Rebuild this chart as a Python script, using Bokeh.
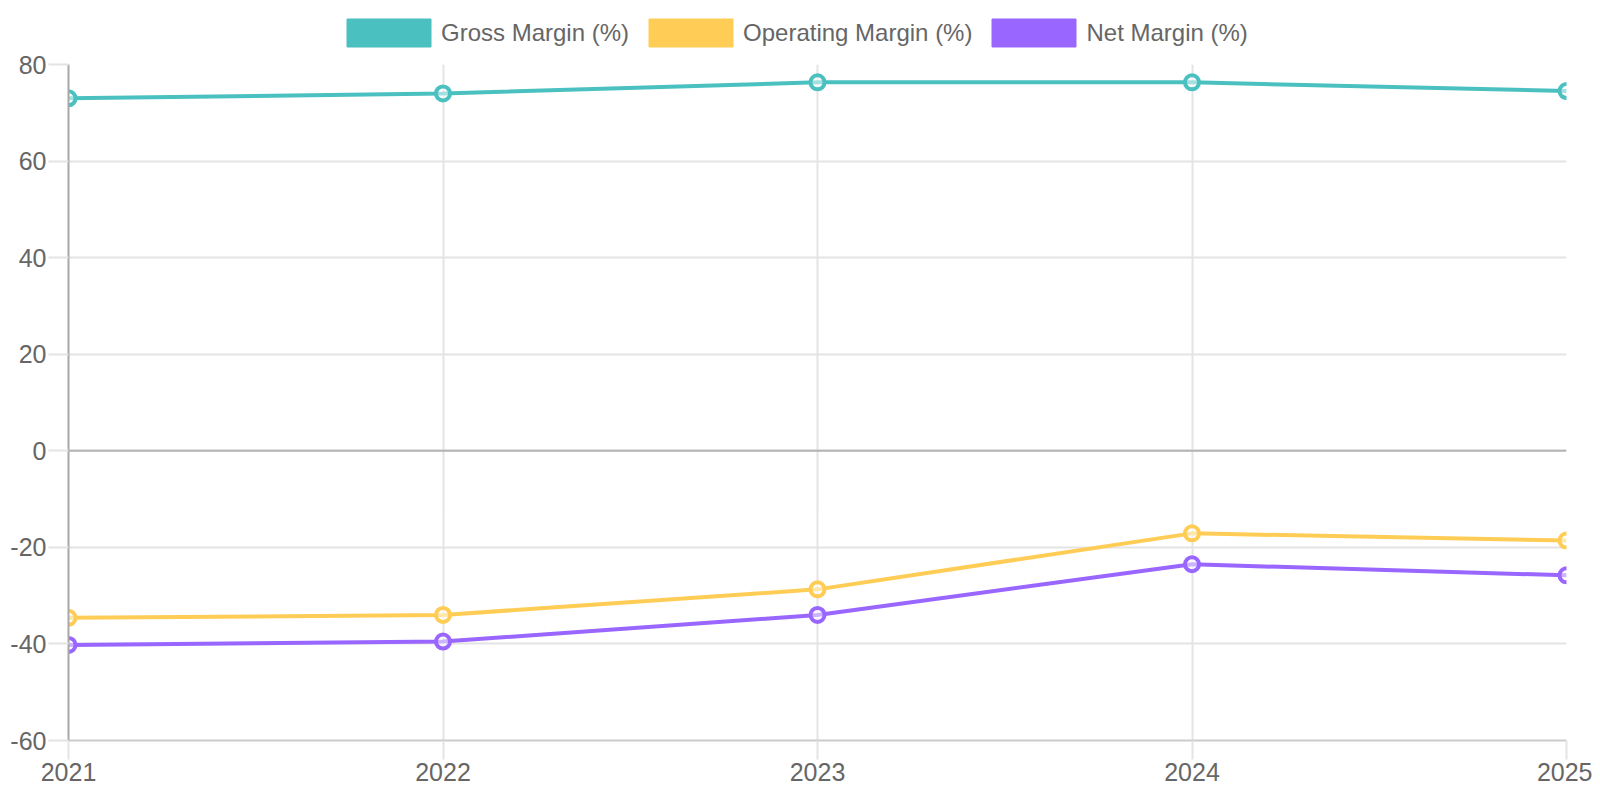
from bokeh.plotting import figure
from bokeh.models import FixedTicker, Legend, LegendItem, Span, ColumnDataSource
from bokeh.layouts import column
from bokeh.embed import file_html
from bokeh.resources import INLINE

years = [2021, 2022, 2023, 2024, 2025]
gross_margin = [73.0, 74.0, 76.3, 76.3, 74.5]
operating_margin = [-34.6, -34.0, -28.7, -17.1, -18.6]
net_margin = [-40.2, -39.5, -34.0, -23.5, -25.8]
series_names = ["Gross Margin (%)", "Operating Margin (%)", "Net Margin (%)"]
series_colors = ["#4BC0C0", "#FFCD56", "#9966FF"]
y_ticks = [-60, -40, -20, 0, 20, 40, 60, 80]

FONT = "Liberation Sans"
TXT = "#666666"

# main chart
p = figure(width=1592, height=740, output_backend="svg", toolbar_location=None,
           x_range=(2021, 2025), y_range=(-60, 80))
p.min_border_left = 68
p.min_border_right = 26
p.min_border_top = 12
p.min_border_bottom = 52
p.outline_line_color = None
p.background_fill_color = "white"

p.xgrid.grid_line_color = "#e4e4e4"
p.xgrid.grid_line_width = 2
p.ygrid.grid_line_color = "#e4e4e4"
p.ygrid.grid_line_width = 2

zero = Span(location=0, dimension="width", line_color="#b4b4b4", line_width=2, level="underlay")
p.add_layout(zero)

p.xaxis.ticker = FixedTicker(ticks=years)
p.xaxis.major_label_overrides = {y: str(y) for y in years}
p.yaxis.ticker = FixedTicker(ticks=y_ticks)
p.yaxis.major_label_overrides = {t: str(t) for t in y_ticks}

for ax in (p.xaxis[0], p.yaxis[0]):
    ax.major_label_text_font = FONT
    ax.major_label_text_font_size = "25px"
    ax.major_label_text_color = TXT
    ax.minor_tick_line_color = None
    ax.major_tick_in = 0
    ax.major_tick_line_width = 2

p.xaxis.axis_line_color = "#cbcbcb"
p.xaxis.axis_line_width = 2
p.xaxis.major_tick_line_color = "#e4e4e4"
p.xaxis.major_tick_out = 19
p.xaxis.major_label_standoff = 3

p.yaxis.axis_line_color = "#a8a8a8"
p.yaxis.axis_line_width = 2
p.yaxis.major_tick_line_color = "#e4e4e4"
p.yaxis.major_tick_out = 20
p.yaxis.major_label_standoff = 2

# legend strip (proxy glyphs lie outside its view range)
lg = figure(width=1592, height=52, output_backend="svg", toolbar_location=None,
            x_range=(2021, 2025), y_range=(200, 300), x_axis_type=None, y_axis_type=None)
lg.min_border_left = 0
lg.min_border_right = 0
lg.min_border_top = 0
lg.min_border_bottom = 0
lg.outline_line_color = None
lg.xgrid.visible = False
lg.ygrid.visible = False

all_series = [gross_margin, operating_margin, net_margin]
items = []
for name, vals, col in zip(series_names, all_series, series_colors):
    p.line(years, vals, line_color=col, line_width=4)
    p.scatter(years, vals, size=14, line_color=col, line_width=4,
              fill_color="white", fill_alpha=0.5)
    src = ColumnDataSource(dict(x=years, y=vals))
    box = lg.rect(x="x", y="y", width=1, height=1, source=src,
                  fill_color=col, line_color=col)
    items.append(LegendItem(label=name, renderers=[box]))

legend = Legend(items=items, orientation="horizontal", location=(268, 2),
                glyph_width=105, glyph_height=35, label_standoff=0, spacing=9,
                padding=0, margin=0, border_line_color=None, background_fill_alpha=0,
                label_text_font=FONT, label_text_font_size="24px", label_text_color=TXT,
                label_height=28)
lg.add_layout(legend, "center")

layout = column(lg, p, spacing=0)
open("out.html", "w").write(file_html(layout, INLINE))
